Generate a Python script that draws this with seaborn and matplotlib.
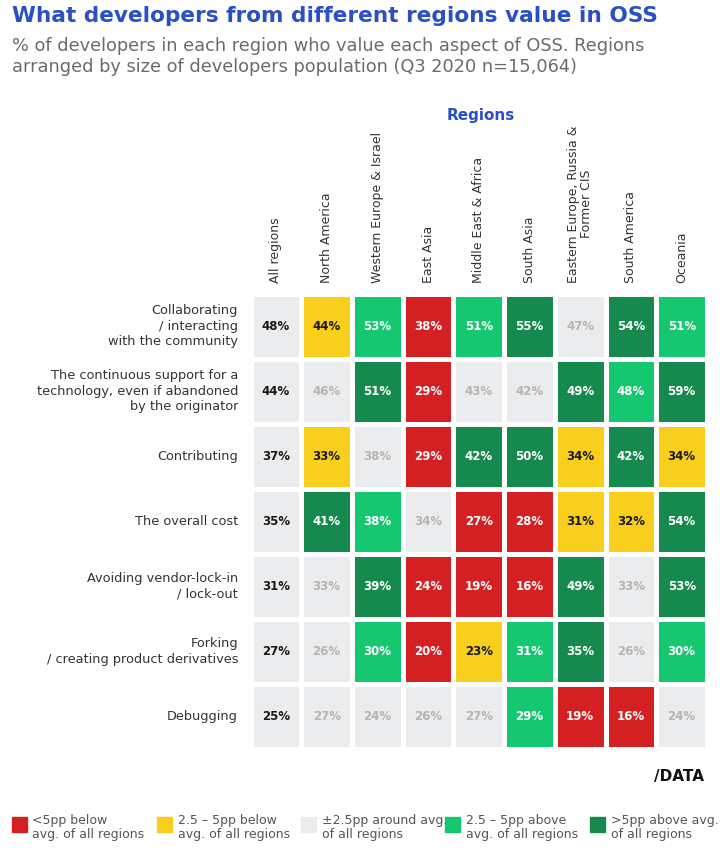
import matplotlib
matplotlib.use("Agg")
import matplotlib.pyplot as plt
from matplotlib.colors import ListedColormap
from matplotlib.patches import Rectangle
import numpy as np
import pandas as pd
import seaborn as sns

# Data
regions = ["All regions", "North America", "Western Europe & Israel", "East Asia",
           "Middle East & Africa", "South Asia", "Eastern Europe, Russia &\nFormer CIS",
           "South America", "Oceania"]
aspects = ["Collaborating\n/ interacting\nwith the community",
           "The continuous support for a\ntechnology, even if abandoned\nby the originator",
           "Contributing",
           "The overall cost",
           "Avoiding vendor-lock-in\n/ lock-out",
           "Forking\n/ creating product derivatives",
           "Debugging"]
values = [
    [48, 44, 53, 38, 51, 55, 47, 54, 51],
    [44, 46, 51, 29, 43, 42, 49, 48, 59],
    [37, 33, 38, 29, 42, 50, 34, 42, 34],
    [35, 41, 38, 34, 27, 28, 31, 32, 54],
    [31, 33, 39, 24, 19, 16, 49, 33, 53],
    [27, 26, 30, 20, 23, 31, 35, 26, 30],
    [25, 27, 24, 26, 27, 29, 19, 16, 24],
]
# 0: <5pp below, 1: 2.5-5pp below, 2: around avg, 3: 2.5-5pp above, 4: >5pp above
levels = [
    [2, 1, 3, 0, 3, 4, 2, 4, 3],
    [2, 2, 4, 0, 2, 2, 4, 3, 4],
    [2, 1, 2, 0, 4, 4, 1, 4, 1],
    [2, 4, 3, 2, 0, 0, 1, 1, 4],
    [2, 2, 4, 0, 0, 0, 4, 2, 4],
    [2, 2, 3, 0, 1, 3, 4, 2, 3],
    [2, 2, 2, 2, 2, 3, 0, 0, 2],
]
legend_labels = ["<5pp below\navg. of all regions",
                 "2.5 \u2013 5pp below\navg. of all regions",
                 "\u00b12.5pp around avg.\nof all regions",
                 "2.5 \u2013 5pp above\navg. of all regions",
                 ">5pp above avg.\nof all regions"]

palette = ["#d42022", "#f8cf1c", "#ebecee", "#16c771", "#168a4e"]
text_cols = ["white", "#1a1a1a", "#b5b5b5", "white", "white"]
blue = "#2b4fc4"

df_lvl = pd.DataFrame(levels, index=aspects, columns=regions)
annot = np.array([[f"{v}%" for v in row] for row in values])

plt.rcParams['font.family'] = ['DejaVu Sans']
fig = plt.figure(figsize=(7.2, 8.52), dpi=100)
ax = fig.add_axes([0.348, 0.121, 0.634, 0.534])

sns.heatmap(df_lvl, ax=ax, cmap=ListedColormap(palette), vmin=-0.5, vmax=4.5,
            cbar=False, annot=annot, fmt="", linewidths=3.3, linecolor="white",
            annot_kws={"fontsize": 8.5, "fontweight": "bold"})

for k, t in enumerate(ax.texts):
    i, j = divmod(k, len(regions))
    lv = levels[i][j]
    t.set_color("#1a1a1a" if j == 0 else text_cols[lv])

ax.xaxis.tick_top()
ax.set_xticklabels(regions, rotation=90, fontsize=9, color="#333333",
                   ha="center", va="bottom", linespacing=1.0)
ax.set_yticklabels(aspects, rotation=0, fontsize=9.3, color="#333333",
                   ha="right", va="center", linespacing=1.25)
ax.tick_params(length=0, pad=9)
ax.tick_params(axis="x", pad=8)
ax.set_xlabel("")
ax.set_ylabel("")

fig.text(0.016, 0.993, "What developers from different regions value in OSS",
         fontsize=15.6, fontweight="bold", color=blue, va="top")
fig.text(0.016, 0.957, "% of developers in each region who value each aspect of OSS. Regions\n"
         "arranged by size of developers population (Q3 2020 n=15,064)",
         fontsize=12.8, color="#6b6b6b", va="top", linespacing=1.25)
fig.text(0.668, 0.864, "Regions", fontsize=11, fontweight="bold", color=blue,
         ha="center", va="center")
fig.text(0.978, 0.089, "/DATA", fontsize=11, fontweight="bold", color="#111111",
         ha="right", va="center")

# legend
leg_x = [0.016, 0.218, 0.418, 0.618, 0.819]
for k, (lab, col) in enumerate(zip(legend_labels, palette)):
    fig.patches.append(Rectangle((leg_x[k], 0.0235), 0.021, 0.018,
                                 transform=fig.transFigure, color=col))
    fig.text(leg_x[k] + 0.029, 0.0285, lab, fontsize=9, color="#555555",
             va="center", linespacing=1.15)

fig.savefig("out.png", dpi=100, facecolor="white")
